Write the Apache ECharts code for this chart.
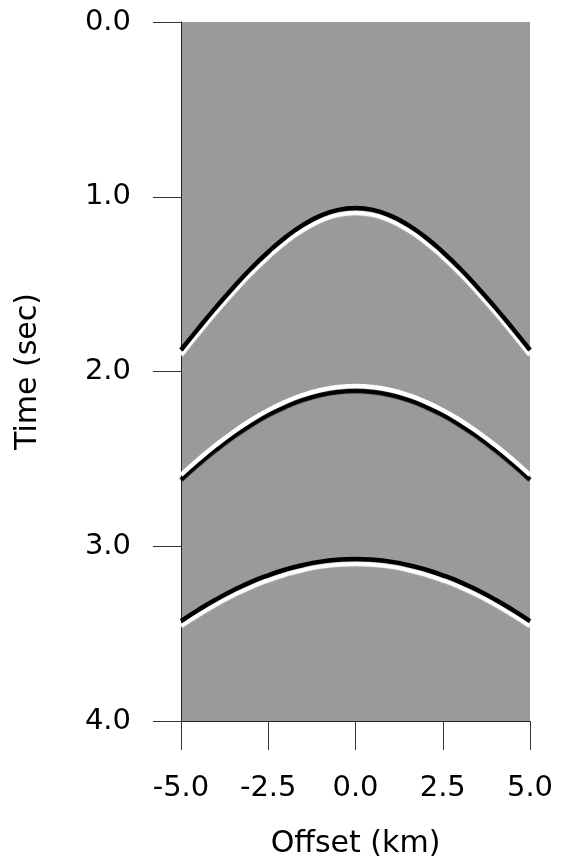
<!DOCTYPE html>
<html>
<head>
<meta charset="utf-8">
<script src="https://cdn.jsdelivr.net/npm/echarts@6/dist/echarts.min.js"></script>
<style>
  html, body { margin: 0; padding: 0; background: #fff; }
  #chart { width: 561px; height: 860px; }
</style>
</head>
<body>
<div id="chart"></div>
<script>
// offsets (km) and picked traveltimes (sec) of the three reflections
const offsets = [-5, -4.5, -4, -3.5, -3, -2.5, -2, -1.5, -1, -0.5, 0, 0.5, 1, 1.5, 2, 2.5, 3, 3.5, 4, 4.5, 5];
const event1 = [1.877, 1.753, 1.633, 1.519, 1.412, 1.316, 1.231, 1.161, 1.108, 1.075, 1.064, 1.075, 1.108, 1.161, 1.231, 1.316, 1.412, 1.519, 1.633, 1.753, 1.877];
const event2 = [2.592, 2.503, 2.421, 2.346, 2.279, 2.221, 2.173, 2.134, 2.106, 2.089, 2.083, 2.089, 2.106, 2.134, 2.173, 2.221, 2.279, 2.346, 2.421, 2.503, 2.592];
const event3 = [3.428, 3.364, 3.305, 3.252, 3.205, 3.166, 3.133, 3.107, 3.088, 3.077, 3.073, 3.077, 3.088, 3.107, 3.133, 3.166, 3.205, 3.252, 3.305, 3.364, 3.428];
const timeTicks = [0, 1, 2, 3, 4];
const offsetTicks = [-5, -2.5, 0, 2.5, 5];

const FONT = 'DejaVu Sans';

const myChart = echarts.init(document.getElementById('chart'));

// polarity: top lobe is the line colour, lower lobe is its shadow just below
const wavelet = (data, top, bottom) => ({
  type: 'line',
  data: offsets.map((x, i) => [x, data[i]]),
  smooth: true,
  symbol: 'none',
  silent: true,
  clip: true,
  lineStyle: {
    color: top,
    width: 4.5,
    shadowColor: bottom,
    shadowOffsetY: 5,
    shadowBlur: 1
  }
});

const option = {
  animation: false,
  backgroundColor: '#fff',
  grid: {
    left: 181,
    right: 31,
    top: 22,
    bottom: 139,
    outerBoundsMode: 'none',
    show: true,
    backgroundColor: '#9a9a9a',
    borderWidth: 0
  },
  xAxis: {
    type: 'value',
    min: -5,
    max: 5,
    interval: 2.5,
    name: 'Offset (km)',
    nameLocation: 'middle',
    nameGap: 108,
    nameTextStyle: { fontFamily: FONT, fontSize: 30, color: '#000' },
    axisLine: { show: true, onZero: false, lineStyle: { color: '#222', width: 1 } },
    axisTick: { show: true, length: 29, lineStyle: { color: '#333', width: 1 } },
    axisLabel: {
      fontFamily: FONT, fontSize: 29, color: '#000', margin: 53,
      formatter: v => v.toFixed(1),
      customValues: offsetTicks
    },
    splitLine: { show: false }
  },
  yAxis: {
    type: 'value',
    inverse: true,
    min: 0,
    max: 4,
    interval: 1,
    name: 'Time (sec)',
    nameLocation: 'middle',
    nameGap: 138,
    nameTextStyle: { fontFamily: FONT, fontSize: 30, color: '#000' },
    axisLine: { show: true, onZero: false, lineStyle: { color: '#222', width: 1 } },
    axisTick: { show: true, length: 28, lineStyle: { color: '#333', width: 1 } },
    axisLabel: {
      fontFamily: FONT, fontSize: 29, color: '#000', margin: 50,
      formatter: v => v.toFixed(1),
      customValues: timeTicks
    },
    splitLine: { show: false }
  },
  series: [
    wavelet(event1, '#000', '#fff'),
    wavelet(event2, '#fff', '#000'),
    wavelet(event3, '#000', '#fff')
  ]
};

myChart.setOption(option);
</script>
</body>
</html>
